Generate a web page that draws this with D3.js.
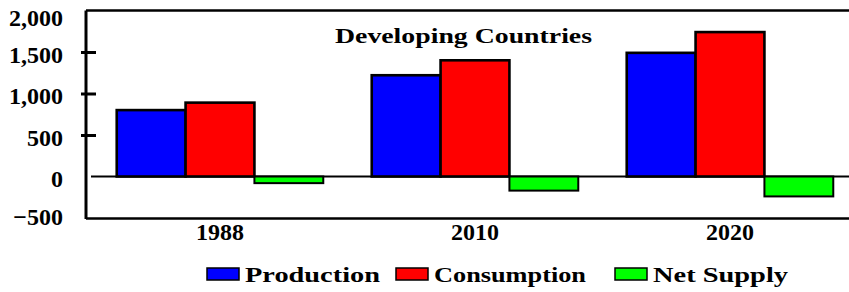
<!DOCTYPE html>
<html>
<head>
<meta charset="utf-8">
<script src="https://cdn.jsdelivr.net/npm/d3@7"></script>
<style>
  body { margin: 0; background: #fff; }
  svg { display: block; }
  text { font-family: "Liberation Serif", "Times New Roman", serif; font-weight: bold; fill: #000; }
</style>
</head>
<body>
<svg id="chart"></svg>
<script>
var width = 849, height = 292;

// data
var years = ["1988", "2010", "2020"];
var seriesNames = ["Production", "Consumption", "Net Supply"];
var production = [800, 1220, 1490];
var consumption = [890, 1400, 1740];
var netSupply = [-80, -170, -240];
var yTicks = [-500, 0, 500, 1000, 1500, 2000];
var colors = ["#0000ff", "#ff0000", "#00ff00"];

var rows = years.map(function(yr, i) {
    return { year: yr, values: [production[i], consumption[i], netSupply[i]] };
});

var svg = d3.select("#chart")
    .attr("width", width)
    .attr("height", height);

// plot frame (note: "top" is reserved on window, so use other names)
var plotLeft = 86, plotTop = 10.5, plotBottom = 218;

var y = d3.scaleLinear().domain([-500, 2000]).range([plotBottom, plotTop]);

var x0 = d3.scaleBand().domain(years)
    .range([92.5, 857.5])
    .paddingInner(0.19)
    .paddingOuter(0.095);

var x1 = d3.scaleBand().domain(seriesNames).range([0, x0.bandwidth()]);

// zero line
svg.append("line")
    .attr("x1", 91).attr("x2", width)
    .attr("y1", y(0)).attr("y2", y(0))
    .attr("stroke", "#000").attr("stroke-width", 2);

// bars
var groups = svg.selectAll("g.grp")
    .data(rows)
    .enter().append("g")
    .attr("class", "grp")
    .attr("transform", d => "translate(" + x0(d.year) + ",0)");

groups.selectAll("rect")
    .data(d => d.values.map((v, i) => ({ name: seriesNames[i], value: v, i: i })))
    .enter().append("rect")
    .attr("x", d => x1(d.name))
    .attr("width", x1.bandwidth())
    .attr("y", d => y(Math.max(0, d.value)))
    .attr("height", d => Math.abs(y(d.value) - y(0)))
    .attr("fill", d => colors[d.i])
    .attr("stroke", "#000")
    .attr("stroke-width", d => d.i == 2 ? 2 : 2.6);

// frame
svg.append("line").attr("x1", plotLeft).attr("x2", plotLeft).attr("y1", plotTop).attr("y2", plotBottom + 1)
    .attr("stroke", "#000").attr("stroke-width", 3);
svg.append("line").attr("x1", plotLeft).attr("x2", width).attr("y1", plotTop).attr("y2", plotTop)
    .attr("stroke", "#000").attr("stroke-width", 2.5);
svg.append("line").attr("x1", plotLeft).attr("x2", width).attr("y1", plotBottom + 0.5).attr("y2", plotBottom + 0.5)
    .attr("stroke", "#000").attr("stroke-width", 2.5);

// y axis
var yAxis = svg.append("g")
    .attr("transform", "translate(" + plotLeft + ",0)")
    .call(d3.axisLeft(y).tickValues(yTicks).tickFormat(d3.format(",")).tickSize(0).tickPadding(23));
yAxis.select(".domain").remove();
yAxis.selectAll(".tick text")
    .attr("font-size", 24)
    .attr("dy", d => d == 2000 ? "0.62em" : d == -500 ? "0.25em" : "0.42em")
    .style("font-family", "'Liberation Serif', serif")
    .style("font-weight", "bold");
yAxis.selectAll(".tick")
    .filter(d => d == 500 || d == 1000 || d == 1500)
    .append("line")
    .attr("x1", -5).attr("x2", 10)
    .attr("stroke", "#000").attr("stroke-width", 3);

// x labels
svg.selectAll("text.xlab")
    .data(years)
    .enter().append("text")
    .attr("class", "xlab")
    .attr("x", d => x0(d) + x0.bandwidth() / 2)
    .attr("y", 240)
    .attr("text-anchor", "middle")
    .attr("font-size", 24)
    .text(d => d);

// title
svg.append("text")
    .attr("x", 335).attr("y", 43)
    .attr("font-size", 22)
    .attr("textLength", 257)
    .attr("lengthAdjust", "spacingAndGlyphs")
    .text("Developing Countries");

// legend
var legX = [207, 396, 615];
var legW = [135, 152, 135];
var leg = svg.selectAll("g.leg")
    .data(seriesNames)
    .enter().append("g")
    .attr("class", "leg")
    .attr("transform", (d, i) => "translate(" + legX[i] + ",268)");
leg.append("rect")
    .attr("width", 32).attr("height", 12)
    .attr("fill", (d, i) => colors[i])
    .attr("stroke", "#000").attr("stroke-width", 1.5);
leg.append("text")
    .attr("x", 38).attr("y", 14)
    .attr("font-size", 20)
    .attr("textLength", (d, i) => legW[i])
    .attr("lengthAdjust", "spacingAndGlyphs")
    .text(d => d);
</script>
</body>
</html>
